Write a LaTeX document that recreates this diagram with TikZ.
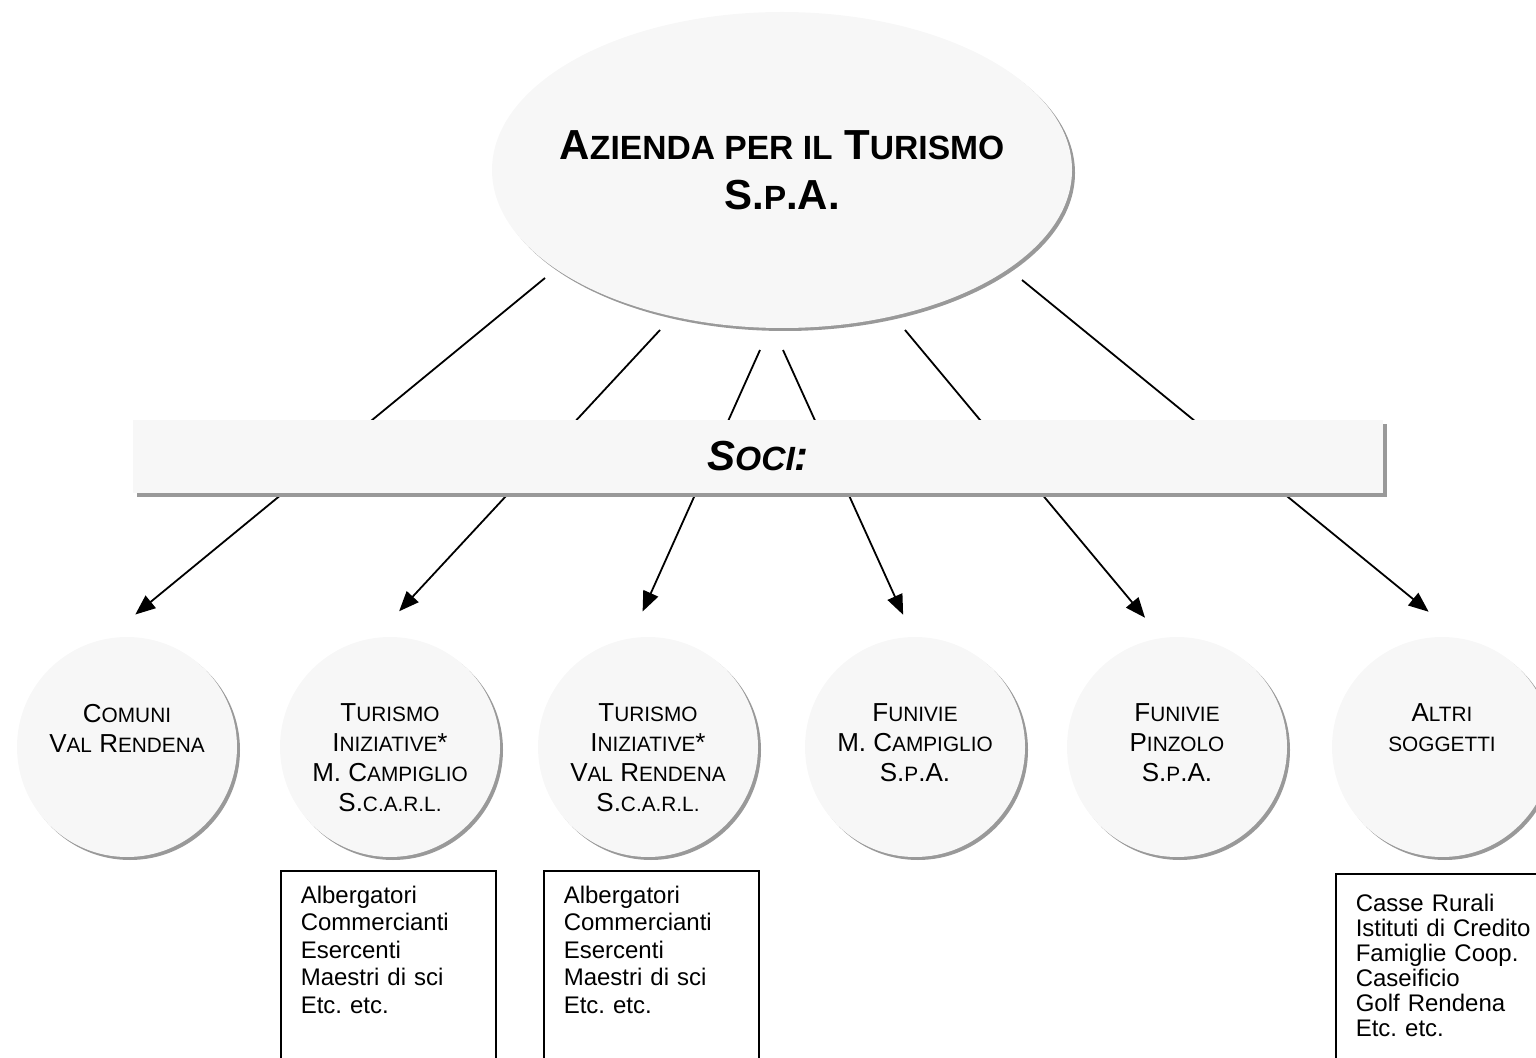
\documentclass[tikz,border=0pt]{standalone}
\usepackage{fontspec}
\setmainfont{Liberation Sans}
\usepackage{graphicx}
\usetikzlibrary{shapes.geometric, arrows.meta, shadows}
\frenchspacing
\newcommand{\smc}[1]{\scalebox{0.8}{#1}}
\newcommand{\cerchiotesto}[1]{\parbox[c][75pt][t]{80pt}{\centering\vspace*{16pt}#1}}
\newcommand{\riga}[1]{\makebox[0pt]{#1}}
\tikzstyle{ombra} = [drop shadow={shadow xshift=1.5pt, shadow yshift=-1.5pt, fill=black!40, opacity=1}]
\tikzstyle{azienda} = [ellipse, minimum width=290pt, minimum height=158pt, inner sep=0pt, fill=black!3, ombra, align=center, font=\fontsize{21}{25}\selectfont\bfseries]
\tikzstyle{socio} = [circle, minimum size=110pt, inner sep=0pt, fill=black!3, ombra, font=\fontsize{13}{15}\selectfont]
\tikzstyle{barra} = [rectangle, minimum width=625pt, minimum height=36.5pt, fill=black!3, drop shadow={shadow xshift=2pt, shadow yshift=-2pt, fill=black!40, opacity=1}, font=\fontsize{21}{25}\selectfont\bfseries\itshape]
\tikzstyle{elenco} = [rectangle, draw=black, line width=0.8pt, anchor=north west, align=left, inner xsep=10pt, inner ysep=7.5pt, text width=87.5pt, text depth=110pt, font=\fontsize{12}{13.75}\selectfont]
\tikzstyle{freccia} = [line width=0.9pt, -{Triangle[length=10pt, width=8pt]}]

\begin{document}
\begin{tikzpicture}[x=0.5pt, y=-0.5pt]
      \useasboundingbox (0,0) rectangle (1536,1058);

      \node (apt) [azienda] at (782,170) {\riga{A\smc{ZIENDA PER IL} T\smc{URISMO}}\\\riga{S.\smc{P}.A.}};

      \node (c1) [socio] at (127,747) {\cerchiotesto{C\smc{OMUNI}\\V\smc{AL} R\smc{ENDENA}}};
      \node (c2) [socio] at (390,747) {\cerchiotesto{T\smc{URISMO}\\I\smc{NIZIATIVE}*\\M. C\smc{AMPIGLIO}\\S.\smc{C.A.R.L.}}};
      \node (c3) [socio] at (648,747) {\cerchiotesto{T\smc{URISMO}\\I\smc{NIZIATIVE}*\\V\smc{AL} R\smc{ENDENA}\\S.\smc{C.A.R.L.}}};
      \node (c4) [socio] at (915,747) {\cerchiotesto{F\smc{UNIVIE}\\M. C\smc{AMPIGLIO}\\S.\smc{P}.A.}};
      \node (c5) [socio] at (1177,747) {\cerchiotesto{F\smc{UNIVIE}\\P\smc{INZOLO}\\S.\smc{P}.A.}};
      \node (c6) [socio] at (1442,747) {\cerchiotesto{A\smc{LTRI}\\\smc{SOGGETTI}}};

      \node (b2) [elenco] at (280,870) {Albergatori\\Commercianti\\Esercenti\\Maestri di sci\\Etc. etc.};
      \node (b3) [elenco] at (543,870) {Albergatori\\Commercianti\\Esercenti\\Maestri di sci\\Etc. etc.};
      \node (b6) [elenco, inner ysep=10pt, text width=100pt, font=\fontsize{12}{12.5}\selectfont] at (1335,873) {Casse Rurali\\Istituti di Credito\\Famiglie Coop.\\Caseificio\\Golf Rendena\\Etc. etc.};

      % Arrows
      \coordinate (s1) at (545,278);
      \coordinate (s2) at (660,330);
      \coordinate (s3) at (760,350);
      \coordinate (s4) at (783,350);
      \coordinate (s5) at (905,330);
      \coordinate (s6) at (1022,280);
      \draw [freccia, shorten >=19pt] (s1) -- (c1.101);
      \draw [freccia, shorten >=18pt] (s2) -- (c2.98);
      \draw [freccia, shorten >=14.5pt] (s3) -- (c3.99);
      \draw [freccia, shorten >=12pt] (s4) -- (c4.91);
      \draw [freccia, shorten >=13pt] (s5) -- (c5.98);
      \draw [freccia, shorten >=21pt] (s6) -- (c6.80);

      \node (soci) [barra] at (758,456.5) {S\smc{OCI}:};

\end{tikzpicture}
\end{document}
